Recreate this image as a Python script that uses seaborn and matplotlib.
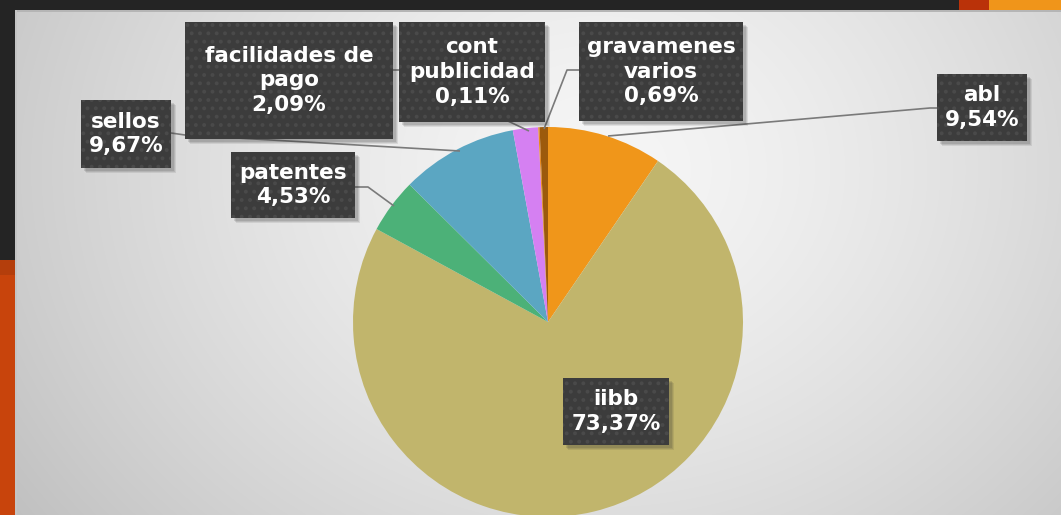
import numpy as np
import matplotlib
matplotlib.use("Agg")
import matplotlib.pyplot as plt
import seaborn as sns
from matplotlib.patches import Rectangle, Circle

# ---------------- data ----------------
categories = ["abl", "iibb", "patentes", "sellos", "facilidades de pago",
              "cont publicidad", "gravamenes varios"]
label_text = ["abl", "iibb", "patentes", "sellos", "facilidades de\npago",
              "cont\npublicidad", "gravamenes\nvarios"]
values = [9.54, 73.37, 4.53, 9.67, 2.09, 0.11, 0.69]
colors = ["#F0961A", "#C1B56C", "#4CB178", "#5BA6C2", "#D580F2",
          "#E88A1E", "#9C5A0C"]

# ---------------- layout (pixels, y from top) ----------------
W, H = 1061, 515
boxes = {  # x0, y0, x1, y1
    "abl": (937, 74, 1027, 141),
    "iibb": (563, 378, 669, 445),
    "patentes": (231, 152, 355, 218),
    "sellos": (81, 100, 171, 168),
    "facilidades de pago": (185, 22, 393, 139),
    "cont publicidad": (399, 22, 545, 122),
    "gravamenes varios": (579, 22, 743, 121),
}
leaders = {
    "abl": [(608, 136), (930, 108), (937, 108)],
    "gravamenes varios": [(544, 129), (567, 70), (579, 70)],
    "facilidades de pago": [(393, 70), (400, 70), (510, 122), (529, 131)],
    "sellos": [(171, 133), (185, 135), (460, 151)],
    "patentes": [(355, 187), (368, 187), (394, 206)],
}
pie_center = (548, 322)
pie_radius = 195

sns.set_style("white")
plt.rcParams["font.family"] = ["DejaVu Sans"]

fig = plt.figure(figsize=(W / 100, H / 100), dpi=100)
fig.patch.set_facecolor("#242424")
ax = fig.add_axes([0, 0, 1, 1])
ax.set_xlim(0, W)
ax.set_ylim(0, H)
ax.axis("off")


def Y(y):
    return H - y


# background gradient of the chart area
xs = np.arange(15, W) + 0.5
ys = np.arange(10, H) + 0.5
XX, YY = np.meshgrid(xs, ys)
d = np.sqrt(((XX - 600) / 620) ** 2 + ((YY - 170) / 520) ** 2)
v = 246 - 44 * np.clip(d, 0, 1.15) ** 1.4
img = np.dstack([v, v, v]) / 255.0
ax.imshow(img, extent=(15, W, Y(H), Y(10)), origin="upper", zorder=0,
          aspect="auto", interpolation="bilinear")
# top border line of chart area
ax.add_patch(Rectangle((15, Y(11.5)), W - 15, 1.5, color="#b5b5b5", lw=0, zorder=1))

# top bar and left strip
ax.add_patch(Rectangle((0, Y(10)), W, 10, color="#242424", lw=0, zorder=1))
ax.add_patch(Rectangle((959, Y(10)), 30, 10, color="#BA3209", lw=0, zorder=2))
ax.add_patch(Rectangle((989, Y(10)), W - 989, 10, color="#F0951A", lw=0, zorder=2))
ax.add_patch(Rectangle((0, 0), 15, H, color="#242424", lw=0, zorder=1))
ax.add_patch(Rectangle((0, 0), 15, Y(260), color="#C8440C", lw=0, zorder=2))
ax.add_patch(Rectangle((0, Y(275)), 15, 15, color="#A83A0C", lw=0, zorder=2, alpha=0.6))
ax.add_patch(Rectangle((15, 0), 1.5, Y(10), color="#c4c4c4", lw=0, zorder=2))

# soft white halo around the pie
cx, cy = pie_center[0], Y(pie_center[1])
for k in range(1, 45):
    ax.add_patch(Circle((cx, cy), pie_radius + k, color="white", alpha=0.022,
                        lw=0, zorder=3))

# pie
wedges, _ = ax.pie(values, colors=colors, startangle=90, counterclock=False,
                   center=(cx, cy), radius=pie_radius,
                   wedgeprops=dict(linewidth=0, zorder=4), frame=True)
ax.set_xlim(0, W)
ax.set_ylim(0, H)
ax.set_aspect("equal", adjustable="box")
ax.axis("off")

# leader lines
for name, pts in leaders.items():
    px = [p[0] for p in pts]
    py = [Y(p[1]) for p in pts]
    ax.plot(px, py, color="#7a7a7a", lw=1.2, zorder=5, solid_capstyle="butt")

# label boxes
plt.rcParams["hatch.linewidth"] = 1.6
for name, txt, val in zip(categories, label_text, values):
    x0, y0, x1, y1 = boxes[name]
    w, h = x1 - x0, y1 - y0
    for s, a in [(5, 0.10), (4, 0.12), (3, 0.14)]:
        ax.add_patch(Rectangle((x0 + s, Y(y1) - s), w, h, color="#303030",
                               alpha=a, lw=0, zorder=6))
    ax.add_patch(Rectangle((x0, Y(y1)), w, h, facecolor="#3c3c3c",
                           edgecolor="#4a4a4a", hatch="..", lw=0, zorder=7))
    lab = f"{txt}\n{val:.2f}".replace(".", ",") + "%"
    ax.text((x0 + x1) / 2, Y((y0 + y1) / 2), lab, ha="center", va="center",
            color="white", fontsize=15.5, fontweight="bold", linespacing=1.3,
            zorder=8)

fig.savefig("out.png", dpi=100, facecolor=fig.get_facecolor())
